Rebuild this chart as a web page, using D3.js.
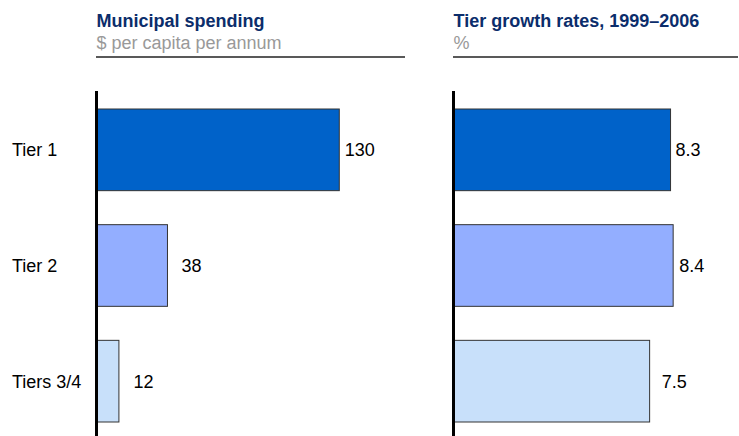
<!DOCTYPE html>
<html>
<head>
<meta charset="utf-8">
<script src="https://cdn.jsdelivr.net/npm/d3@7"></script>
<style>
  html, body { margin: 0; padding: 0; background: #fff; }
  svg { display: block; font-family: "Liberation Sans", Arial, sans-serif; }
</style>
</head>
<body>
<svg id="chart" width="739" height="436"></svg>
<script>
// ---- Data ----
const categories = ["Tier 1", "Tier 2", "Tiers 3/4"];
const spending = [130, 38, 12];
const growth = [8.3, 8.4, 7.5];
const spendingLabels = ["130", "38", "12"];
const growthLabels = ["8.3", "8.4", "7.5"];
const panelTitles = ["Municipal spending", "Tier growth rates, 1999\u20132006"];
const panelSubtitles = ["$ per capita per annum", "%"];
const barColors = ["#0062C9", "#93AEFF", "#C8E0FA"];

// ---- Layout ----
const svg = d3.select("#chart");
const W = 739, H = 436;
const y = d3.scaleBand().domain(categories).range([92, 439]).paddingInner(0.294).paddingOuter(0.147);

const panels = [
  { values: spending, labels: spendingLabels, x0: 96.5, pxPerUnit: 1.8675, lineEnd: 405, gaps: [5.5, 14, 14.5] },
  { values: growth, labels: growthLabels, x0: 453.5, pxPerUnit: 26.15, lineEnd: 738, gaps: [5, 6, 12] }
];

// Category labels
svg.append("g").selectAll("text").data(categories).join("text")
  .attr("x", 12)
  .attr("y", d => y(d) + y.bandwidth() / 2)
  .attr("dy", "0.36em")
  .attr("font-size", 18)
  .attr("fill", "#000")
  .text(d => d);

panels.forEach((p, pi) => {
  const maxV = d3.max(p.values);
  const x = d3.scaleLinear().domain([0, maxV]).range([p.x0, p.x0 + maxV * p.pxPerUnit]);
  const g = svg.append("g");

  // Title & subtitle
  g.append("text").attr("x", p.x0).attr("y", 26.5)
    .attr("font-size", 18).attr("font-weight", "bold").attr("fill", "#0B2D6B")
    .text(panelTitles[pi]);
  g.append("text").attr("x", p.x0).attr("y", 49)
    .attr("font-size", 18).attr("fill", "#999999")
    .text(panelSubtitles[pi]);
  g.append("line").attr("x1", p.x0 - 0.5).attr("x2", p.lineEnd).attr("y1", 57).attr("y2", 57)
    .attr("stroke", "#222").attr("stroke-width", 1.5);

  // Bars
  g.selectAll("rect").data(p.values).join("rect")
    .attr("x", x(0))
    .attr("y", (d, i) => y(categories[i]))
    .attr("width", d => x(d) - x(0))
    .attr("height", y.bandwidth())
    .attr("fill", (d, i) => barColors[i])
    .attr("stroke", "#333")
    .attr("stroke-width", 1);

  // Value labels
  g.selectAll("text.val").data(p.values).join("text")
    .attr("class", "val")
    .attr("x", (d, i) => x(d) + p.gaps[i])
    .attr("y", (d, i) => y(categories[i]) + y.bandwidth() / 2)
    .attr("dy", "0.36em")
    .attr("font-size", 18)
    .attr("fill", "#000")
    .text((d, i) => p.labels[i]);

  // Axis line
  g.append("line").attr("x1", x(0)).attr("x2", x(0)).attr("y1", 91).attr("y2", H)
    .attr("stroke", "#000").attr("stroke-width", 3);
});
</script>
</body>
</html>
